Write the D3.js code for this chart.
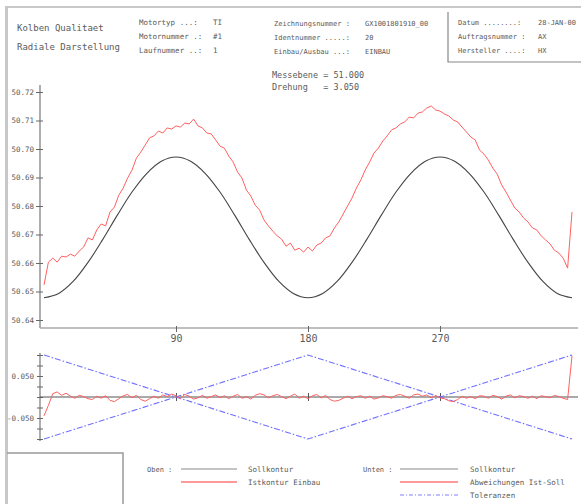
<!DOCTYPE html>
<html><head><meta charset="utf-8">
<script src="https://cdn.jsdelivr.net/npm/d3@7"></script>
<style>
body{margin:0;background:#fff;}
svg{display:block;}
text{font-family:"DejaVu Sans Mono","Liberation Mono",monospace;fill:#5a5a5a;white-space:pre;}
</style></head>
<body>
<svg id="c" width="581" height="504"></svg>
<script>
// ---- data ----
const sollDeg = [0,10,20,30,40,50,60,70,80,90,100,110,120,130,140,150,160,170,180,
                 190,200,210,220,230,240,250,260,270,280,290,300,310,320,330,340,350,360];
const sollVal = [50.6478,50.6493,50.6536,50.6602,50.6682,50.6768,50.6849,50.6914,50.6957,50.6972,
                 50.6957,50.6914,50.6849,50.6768,50.6682,50.6602,50.6536,50.6493,50.6478,
                 50.6493,50.6536,50.6602,50.6682,50.6768,50.6849,50.6914,50.6957,50.6972,
                 50.6957,50.6914,50.6849,50.6768,50.6682,50.6602,50.6536,50.6493,50.6478];
const istVal = [
 50.6523,50.6603,50.6617,50.6603,50.6624,50.6621,50.6631,50.6624,50.6642,50.6656,
 50.6688,50.6681,50.6716,50.6737,50.6730,50.6779,50.6796,50.6838,50.6863,50.6898,
 50.6926,50.6968,50.6989,50.7014,50.7039,50.7046,50.7063,50.7056,50.7074,50.7070,
 50.7081,50.7077,50.7091,50.7088,50.7105,50.7081,50.7074,50.7056,50.7053,50.7032,
 50.7010,50.7003,50.6975,50.6954,50.6919,50.6898,50.6856,50.6835,50.6803,50.6786,
 50.6751,50.6730,50.6712,50.6695,50.6684,50.6659,50.6670,50.6645,50.6652,50.6638,
 50.6656,50.6642,50.6663,50.6670,50.6688,50.6695,50.6723,50.6744,50.6772,50.6800,
 50.6828,50.6863,50.6891,50.6926,50.6954,50.6986,50.7003,50.7028,50.7046,50.7067,
 50.7074,50.7088,50.7095,50.7112,50.7109,50.7126,50.7130,50.7144,50.7151,50.7137,
 50.7133,50.7123,50.7116,50.7102,50.7095,50.7077,50.7060,50.7042,50.7032,50.6996,
 50.6982,50.6961,50.6933,50.6912,50.6874,50.6849,50.6821,50.6793,50.6779,50.6758,
 50.6744,50.6723,50.6716,50.6695,50.6681,50.6667,50.6645,50.6635,50.6617,50.6582,
 50.6779];
const devVal = [
 -0.045,-0.020,0.008,0.012,0.004,0.009,0.002,-0.003,0.004,0.001,
 -0.004,-0.006,0.002,-0.003,0.003,-0.008,-0.011,-0.004,0.003,0.006,
 -0.002,0.004,-0.006,-0.010,-0.004,0.002,-0.003,0.005,0.001,0.007,
 0.003,-0.004,0.006,0.002,-0.005,-0.002,0.004,-0.003,0.001,0.005,
 -0.002,0.003,-0.004,0.002,0.006,-0.003,0.001,-0.005,0.004,0.008,
 0.005,-0.002,0.003,0.006,0.001,-0.004,0.002,0.007,-0.003,0.002,
 -0.004,0.003,0.006,-0.002,0.004,-0.006,-0.010,-0.008,-0.003,0.002,
 -0.004,0.001,0.003,-0.003,0.002,-0.005,-0.002,0.003,0.001,-0.003,
 0.004,0.006,0.002,-0.003,0.005,0.007,0.002,0.005,-0.002,0.003,
 -0.002,-0.004,-0.009,-0.011,-0.006,0.002,-0.003,0.001,-0.004,0.003,
 0.002,-0.003,0.004,0.001,-0.005,0.002,0.005,-0.002,0.003,0.001,
 -0.003,0.002,-0.004,0.003,0.001,-0.002,0.004,0.001,-0.003,-0.006,
 0.098];
const tolDeg = [0,90,180,270,360];
const tolUpper = [0.1,0,0.1,0,0.1];
const tolLower = [-0.1,0,-0.1,0,-0.1];
const yTicks = [50.64,50.65,50.66,50.67,50.68,50.69,50.70,50.71,50.72];
const xTicks = [90,180,270];
const lowTicks = [-0.1,-0.075,-0.05,-0.025,0,0.025,0.05,0.075,0.1];
const lowLabels = {"0.05":"0.050","-0.05":"-0.050"};

const headerLeft = ["Kolben Qualitaet","Radiale Darstellung"];
const info1 = [["Motortyp ...:","TI"],["Motornummer .:","#1"],["Laufnummer ..:","1"]];
const info2 = [["Zeichnungsnummer :","GX1001801910_00"],["Identnummer .....:","20"],["Einbau/Ausbau ...:","EINBAU"]];
const info3 = [["Datum ........:","28-JAN-00"],["Auftragsnummer :","AX"],["Hersteller ....:","HX"]];
const info4 = ["Messebene = 51.000","Drehung   = 3.050"];

// ---- drawing ----
const svg = d3.select("#c");
const x = d3.scaleLinear().domain([0,360]).range([44,572]);
const y = d3.scaleLinear().domain([50.64,50.72]).range([320,92]);
const yl = d3.scaleLinear().domain([-0.1,0.1]).range([439,355]);

// frames
svg.append("line").attr("x1",6).attr("x2",581).attr("y1",7).attr("y2",7).attr("stroke","#c8c8c8").attr("stroke-width",2);
svg.append("line").attr("x1",6.5).attr("x2",6.5).attr("y1",6).attr("y2",504).attr("stroke","#c8c8c8").attr("stroke-width",3);
svg.append("path").attr("d","M448,12V62H581").attr("fill","none").attr("stroke","#888").attr("stroke-width",1.2);
svg.append("path").attr("d","M7,453H123V504").attr("fill","none").attr("stroke","#999").attr("stroke-width",1.5);

// header text
headerLeft.forEach((t,i)=>svg.append("text").attr("x",17).attr("y",31+i*19).attr("font-size",9).text(t));
function infoBlock(arr,x0,x1,y0,dy,fs){
  arr.forEach((r,i)=>{
    svg.append("text").attr("x",x0).attr("y",y0+i*dy).attr("font-size",fs).text(r[0]);
    svg.append("text").attr("x",x1).attr("y",y0+i*dy).attr("font-size",fs).text(r[1]);
  });
}
infoBlock(info1,139,213,25,14,7.5);
infoBlock(info2,274,365,26,14,7);
infoBlock(info3,458,538,25,14,7);
info4.forEach((t,i)=>svg.append("text").attr("x",272).attr("y",78+i*12).attr("font-size",8.5).text(t));

// upper axes
svg.append("line").attr("x1",40).attr("x2",40).attr("y1",85).attr("y2",328).attr("stroke","#777").attr("stroke-width",1.2);
svg.append("line").attr("x1",40).attr("x2",578).attr("y1",328).attr("y2",328).attr("stroke","#aaa").attr("stroke-width",1.5);
const ga = svg.append("g").attr("transform","translate(40,0)")
  .call(d3.axisLeft(y).tickValues(yTicks).tickSize(4).tickPadding(2).tickFormat(d3.format(".2f")));
ga.select(".domain").remove();
ga.selectAll(".tick line").attr("x2",-4).attr("x1",3).attr("stroke","#666");
ga.selectAll(".tick text").attr("font-size",7.5).attr("font-family","DejaVu Sans Mono").attr("fill","#666");
const gx = svg.append("g").attr("transform","translate(0,328)")
  .call(d3.axisBottom(x).tickValues(xTicks).tickSize(4).tickPadding(3));
gx.select(".domain").remove();
gx.selectAll(".tick line").attr("y1",-2).attr("stroke","#666");
gx.selectAll(".tick text").attr("font-size",10).attr("font-family","DejaVu Sans").attr("fill","#555");

// upper curves
const sollData = sollDeg.map((d,i)=>[d,sollVal[i]]);
const istData = istVal.map((v,i)=>[i*3,v]);
svg.append("path").datum(sollData)
  .attr("d",d3.line().x(d=>x(d[0])).y(d=>y(d[1])).curve(d3.curveCatmullRom))
  .attr("fill","none").attr("stroke","#444").attr("stroke-width",1.1);
svg.append("path").datum(istData)
  .attr("d",d3.line().x(d=>x(d[0])).y(d=>y(d[1])))
  .attr("fill","none").attr("stroke","#ff6060").attr("stroke-width",1);

// lower axes
svg.append("line").attr("x1",40).attr("x2",40).attr("y1",353).attr("y2",441).attr("stroke","#777").attr("stroke-width",1.2);
const gl = svg.append("g").attr("transform","translate(40,0)")
  .call(d3.axisLeft(yl).tickValues(lowTicks).tickSize(4).tickPadding(2)
    .tickFormat(d=>lowLabels[String(Math.round(d*1000)/1000)]||""));
gl.select(".domain").remove();
gl.selectAll(".tick line").attr("x2",-3).attr("x1",3).attr("stroke","#666");
gl.selectAll(".tick text").attr("font-size",7.5).attr("font-family","DejaVu Sans Mono").attr("fill","#666");
svg.append("line").attr("x1",40).attr("x2",578).attr("y1",yl(0)).attr("y2",yl(0)).attr("stroke","#555").attr("stroke-width",1);
const gz = svg.append("g").attr("transform",`translate(0,${yl(0)})`)
  .call(d3.axisBottom(x).tickValues(xTicks).tickSize(4).tickFormat(""));
gz.select(".domain").remove();
gz.selectAll(".tick line").attr("y1",-4).attr("stroke","#555");

// tolerances
const tl = d3.line().x(d=>x(d[0])).y(d=>yl(d[1]));
[tolUpper,tolLower].forEach(arr=>{
  svg.append("path").datum(tolDeg.map((d,i)=>[d,arr[i]])).attr("d",tl)
    .attr("fill","none").attr("stroke","#7070ff").attr("stroke-width",1.1).attr("stroke-dasharray","6,2,1.5,2");
});
// deviation
svg.append("path").datum(devVal.map((v,i)=>[i*3,v])).attr("d",tl)
  .attr("fill","none").attr("stroke","#ff6060").attr("stroke-width",1);

// legend
const leg = [
  {x:147,lx1:181,lx2:237,tx:248,label:"Oben :",items:[["#c4c4c4","Sollkontur",null],["#ff9a9a","Istkontur Einbau",null]]},
  {x:363,lx1:400,lx2:458,tx:470,label:"Unten :",items:[["#c4c4c4","Sollkontur",null],["#ff9a9a","Abweichungen Ist-Soll",null],["#8080ff","Toleranzen","4,2,1,2"]]}
];
leg.forEach(g=>{
  svg.append("text").attr("x",g.x).attr("y",472).attr("font-size",7).text(g.label);
  g.items.forEach((it,i)=>{
    const yy = 469+i*13;
    svg.append("line").attr("x1",g.lx1).attr("x2",g.lx2).attr("y1",yy).attr("y2",yy)
      .attr("stroke",it[0]).attr("stroke-width",it[2]?1:2).attr("stroke-dasharray",it[2]);
    svg.append("text").attr("x",g.tx).attr("y",yy+3).attr("font-size",7.5).text(it[1]);
  });
});
</script>
</body></html>
